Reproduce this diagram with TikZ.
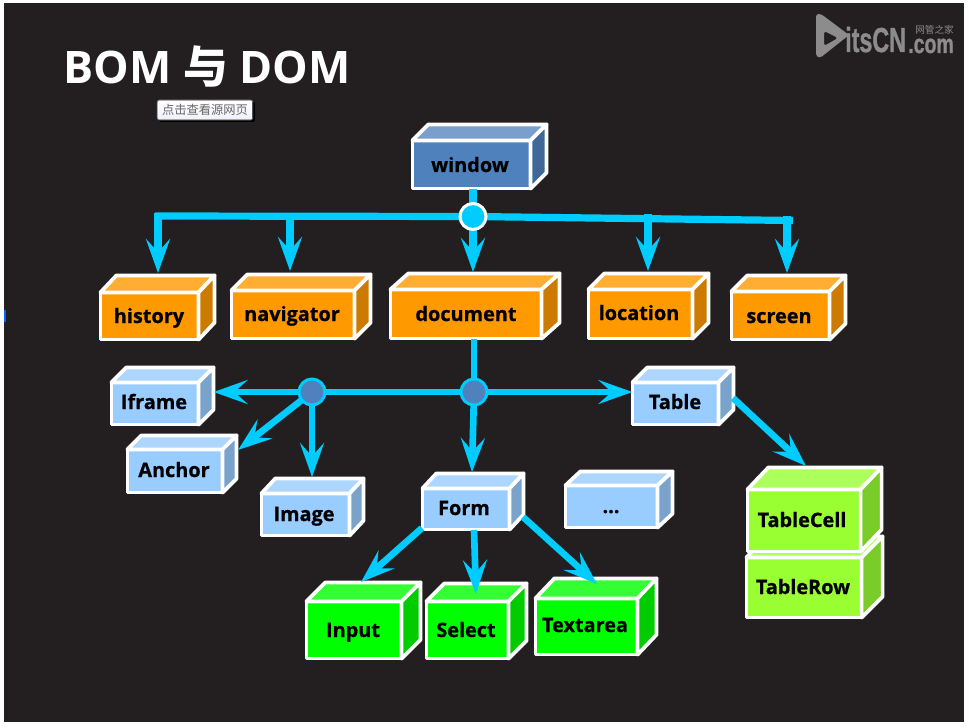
\documentclass[tikz,border=0pt]{standalone}
\usepackage{fontspec}
\usepackage{graphicx}
\setmainfont[BoldFeatures={FakeBold=0.8}]{Open Sans}
\newfontfamily\titlefont{Open Sans}
\newfontfamily\cjkfont{Noto Sans CJK SC}
\newfontfamily\logofont[BoldFeatures={FakeBold=1.2}]{Liberation Sans}
\usetikzlibrary{arrows.meta,calc,fit}
\definecolor{bgdark}{HTML}{231F20}
\definecolor{wire}{HTML}{00CCFF}
\definecolor{wblueF}{HTML}{4F81BD}\definecolor{wblueT}{HTML}{7A9FCC}\definecolor{wblueS}{HTML}{3F6797}
\definecolor{orangeF}{HTML}{FF9900}\definecolor{orangeT}{HTML}{FFAD33}\definecolor{orangeS}{HTML}{CC7A00}
\definecolor{lblueF}{HTML}{99CCFF}\definecolor{lblueT}{HTML}{ADD6FF}\definecolor{lblueS}{HTML}{7AA3CC}
\definecolor{greenF}{HTML}{00FF00}\definecolor{greenT}{HTML}{33FF33}\definecolor{greenS}{HTML}{00CC00}
\definecolor{limeF}{HTML}{99FF33}\definecolor{limeT}{HTML}{ADFF5C}\definecolor{limeS}{HTML}{7ACC29}
\definecolor{logogray}{HTML}{8C8C8C}
\tikzset{
  cubeface/.style={draw=white,line width=2.8pt,line join=round},
  cubefront/.style={cubeface,inner sep=0pt,outer sep=0pt},
  cubetext/.style={font=\bfseries\fontsize{14.9pt}{16pt}\selectfont,text=black,inner sep=0pt,anchor=base},
  wirebase/.style={draw=wire,line width=5.4pt},
  wirethin/.style={draw=wire,line width=5pt},
  wirearrow/.style={wirebase,-{Stealth[length=25.5pt,width=18pt,inset=10pt]}},
  wirearrowthin/.style={wirethin,-{Stealth[length=25.5pt,width=18pt,inset=10pt]}},
  hubbright/.style={circle,draw=white,fill=wire,line width=2.25pt,minimum size=19.5pt,inner sep=0pt},
  hubdark/.style={circle,draw=wire,fill=wblueF,line width=2.25pt,minimum size=19.5pt,inner sep=0pt},
}
% name, outer NW, outer SE, outer back corner, palette, label base, text
\newcommand{\cube}[7]{%
  \coordinate (#1-a) at ($(#2)+(1.4,1.4)$);
  \coordinate (#1-b) at ($(#3)+(-1.4,-1.4)$);
  \coordinate (#1-t) at ($(#4)+(-1.4,1.4)$);
  \node[cubefront,fit=(#1-a)(#1-b),fill=#5F] (#1) {};
  \path[cubeface,fill=#5T] (#1.north west) -- ($(#1-t)-(#1.north east)+(#1.north west)$) -- (#1-t) -- (#1.north east) -- cycle;
  \path[cubeface,fill=#5S] (#1.north east) -- (#1-t) -- ($(#1-t)+(#1.south east)-(#1.north east)$) -- (#1.south east) -- cycle;
  \node[cubetext] (#1-l) at (#6) {#7};
}
\begin{document}
\begin{tikzpicture}[x=0.75pt,y=-0.75pt]
\useasboundingbox (0,0) rectangle (969,727);
\fill[white] (0,0) rectangle (969,727);
\fill[bgdark] (4,3) rectangle (964,722);
\fill[blue!60!cyan] (4,310) rectangle (5.5,322);

% title and button
\node[text=white,font=\titlefont\bfseries\fontsize{33.6pt}{40pt}\selectfont,inner sep=0pt,anchor=center] (title) at (207,67) {BOM {\cjkfont\bfseries 与} DOM};
\fill[black,rounded corners=1.5pt] (159,102) rectangle (255,122);
\node[draw=black!50,line width=.6pt,rounded corners=1.5pt,top color=white,bottom color=black!8!blue!6!white,minimum width=71.5pt,minimum height=14.8pt,inner sep=0pt,text=black!60,font=\cjkfont\fontsize{9.2pt}{10pt}\selectfont] (button) at (205,110) {点击查看源网页};

% logo
\fill[logogray,even odd rule,rounded corners=2pt] (816,14) -- (821,14) -- (849,35) -- (820,58) -- (816,56) -- cycle
  (824,31) -- (824,46) -- (838,38) -- cycle;
\node[text=logogray,font=\logofont\bfseries\fontsize{26pt}{28pt}\selectfont,inner sep=0pt,text height=14pt,text depth=0pt,anchor=base west] (logoA) at (845,52) {\scalebox{.67}[1]{itsCN}};
\node[text=logogray,font=\logofont\bfseries\fontsize{20pt}{22pt}\selectfont,inner sep=0pt,text height=11pt,text depth=0pt,anchor=base east] (logoB) at (954,53) {\scalebox{.73}[1]{.com}};
\node[text=logogray,font=\cjkfont\fontsize{7.2pt}{8pt}\selectfont,inner sep=0pt,text height=6pt,text depth=0pt,anchor=base east] (logoC) at (954,33.5) {网管之家};

% cubes
\cube{window}{411,139}{532,190}{548,123}{wblue}{470,172}{window}
\cube{history}{99,291}{200,341}{216,274}{orange}{149,323}{history}
\cube{navigator}{230,289}{356,340}{372,273}{orange}{292,321}{navigator}
\cube{document}{389,288}{543,340}{561,272}{orange}{466,321}{document}
\cube{location}{587,288}{694,340}{710,272}{orange}{639,320}{location}
\cube{screen}{730,290}{831,341}{847,274}{orange}{779,323}{screen}
\cube{iframe}{110,381}{200,426}{215,366}{lblue}{154,409}{Iframe}
\cube{anchor}{126,448}{224,494}{238,434}{lblue}{174,477}{Anchor}
\cube{image}{260,492}{351,537}{365,477}{lblue}{304,521}{Image}
\cube{table}{631,381}{720,426}{735,366}{lblue}{675,409}{Table}
\cube{form}{421,487}{511,531}{525,472}{lblue}{464,515}{Form}
\cube{more}{564,484}{659,529}{674,470}{lblue}{611,513}{...}
\cube{input}{305,600}{403,660}{422,581}{green}{353,637}{Input}
\cube{select}{425,600}{510,660}{528,582}{green}{466,637}{Select}
\cube{textarea}{534,597}{639,656}{658,577}{green}{585,632}{Textarea}
\cube{tablerow}{745,556}{863,619}{884,535}{lime}{803,594}{TableRow}
\cube{tablecell}{746,488}{862,553}{883,466}{lime}{802,527}{TableCell}

% hubs and wire end points
\coordinate (hubA) at (473,216.5);
\coordinate (hubB) at (474,392);
\coordinate (hubC) at (312,392);
\coordinate (cornerHistory) at (158,213);
\coordinate (barLeft) at (155,216);
\coordinate (cornerScreen) at (793,220.5);
\coordinate (stemNavigator) at (290,216);
\coordinate (stemLocation) at (648,214);
\coordinate (stemScreen) at (787,216);
\coordinate (tipHistory) at (158,273);
\coordinate (tipNavigator) at (290,271);
\coordinate (tipDocument) at (473,272);
\coordinate (tipLocation) at (648,271);
\coordinate (tipScreen) at (787,273);
\coordinate (tipForm) at (472,472);
\coordinate (tipAnchor) at (238,450);
\coordinate (tipImage) at (312,477);
\coordinate (tipCell) at (806,466);
\coordinate (tipInput) at (361,582);
\coordinate (tipSelect) at (476,594);
\coordinate (tipTextarea) at (597,584);
\coordinate (startTable) at (733,398);
\coordinate (startInput) at (422,528);
\coordinate (startSelect) at (474,530);
\coordinate (startTextarea) at (523,517);

% wires
\draw[wirebase] (window.south -| hubA) -- (hubA);
\draw[wirebase] (barLeft) -- (hubA) -- (cornerScreen);
\draw[wirearrow] (hubA) -- (tipDocument);
\draw[wirearrow] (cornerHistory) -- (tipHistory);
\draw[wirearrow] (stemNavigator) -- (tipNavigator);
\draw[wirearrow] (stemLocation) -- (tipLocation);
\draw[wirearrow] (stemScreen) -- (tipScreen);
\draw[wirethin] (document.south -| hubB) -- (hubB);
\draw[wirearrowthin] (hubB) -- (table.west |- hubB);
\draw[wirethin] (hubB) -- (hubC);
\draw[wirearrowthin] (hubC) -- (iframe-t |- hubC);
\draw[wirearrowthin] (hubC) -- (tipAnchor);
\draw[wirearrowthin] (hubC) -- (tipImage);
\draw[wirearrowthin] (hubB) -- (tipForm);
\draw[wirearrowthin] (startTable) -- (tipCell);
\draw[wirearrowthin] (startInput) -- (tipInput);
\draw[wirearrowthin] (startSelect) -- (tipSelect);
\draw[wirearrowthin] (startTextarea) -- (tipTextarea);
\node[hubbright] (hubAn) at (hubA) {};
\node[hubdark] (hubBn) at (hubB) {};
\node[hubdark] (hubCn) at (hubC) {};
\end{tikzpicture}
\end{document}
